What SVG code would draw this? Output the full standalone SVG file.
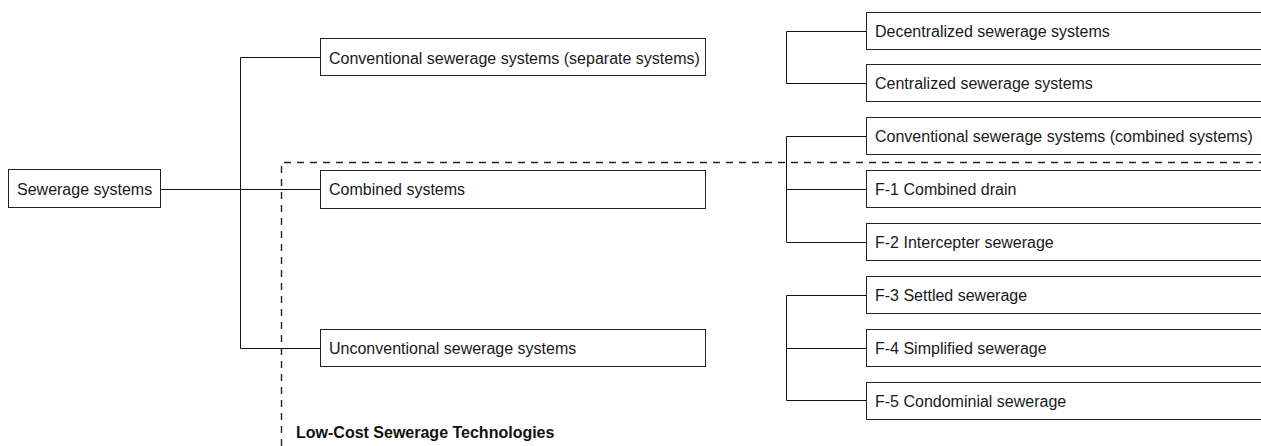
<svg xmlns="http://www.w3.org/2000/svg" width="1261" height="446" viewBox="0 0 1261 446">
  <style>
    .box { fill: #ffffff; stroke: #222222; stroke-width: 1; }
    .lbl { font-family: "Liberation Sans", Arial, sans-serif; font-size: 16px; fill: #1a1a1a; }
    .link { fill: none; stroke: #111111; stroke-width: 1; }
    .zone { fill: none; stroke: #222222; stroke-width: 1.4; stroke-dasharray: 7 6; }
    .zone-title { font-family: "Liberation Sans", Arial, sans-serif; font-size: 16px; font-weight: bold; fill: #111111; }
  </style>

  <!-- connectors -->
  <g id="connectors">
    <!-- root to second level -->
    <path class="link" d="M160.5 189.5 H320.5"/>
    <path class="link" d="M240.5 57.5 V348.5"/>
    <path class="link" d="M240.5 57.5 H320.5"/>
    <path class="link" d="M240.5 348.5 H320.5"/>
    <!-- separate systems bracket -->
    <path class="link" d="M786.5 31.5 V83.5 M786.5 31.5 H866.5 M786.5 83.5 H866.5"/>
    <!-- combined systems bracket -->
    <path class="link" d="M786.5 136.5 V242.5 M786.5 136.5 H866.5 M786.5 189.5 H866.5 M786.5 242.5 H866.5"/>
    <!-- unconventional bracket -->
    <path class="link" d="M786.5 295.5 V400.5 M786.5 295.5 H866.5 M786.5 348.5 H866.5 M786.5 400.5 H866.5"/>
  </g>

  <!-- low-cost technologies zone -->
  <g id="low-cost-zone">
    <path class="zone" d="M281.5 446 V162.5 H1261"/>
    <text class="zone-title" x="296" y="438">Low-Cost Sewerage Technologies</text>
  </g>

  <g id="sewerage-systems">
    <rect class="box" x="8.5" y="169.5" width="152" height="38"/>
    <text class="lbl" x="17" y="194.5">Sewerage systems</text>
  </g>

  <g id="conventional-separate">
    <rect class="box" x="320.5" y="38.5" width="385" height="37"/>
    <text class="lbl" x="329" y="63.5">Conventional sewerage systems (separate systems)</text>
  </g>

  <g id="combined-systems">
    <rect class="box" x="320.5" y="170.5" width="385" height="38"/>
    <text class="lbl" x="329" y="195">Combined systems</text>
  </g>

  <g id="unconventional">
    <rect class="box" x="320.5" y="329.5" width="385" height="37"/>
    <text class="lbl" x="329" y="354">Unconventional sewerage systems</text>
  </g>

  <g id="decentralized">
    <rect class="box" x="866.5" y="12.5" width="400" height="37"/>
    <text class="lbl" x="875" y="37">Decentralized sewerage systems</text>
  </g>

  <g id="centralized">
    <rect class="box" x="866.5" y="64.5" width="400" height="37"/>
    <text class="lbl" x="875" y="89">Centralized sewerage systems</text>
  </g>

  <g id="conventional-combined">
    <rect class="box" x="866.5" y="117.5" width="400" height="37"/>
    <text class="lbl" x="875" y="142">Conventional sewerage systems (combined systems)</text>
  </g>

  <g id="f1">
    <rect class="box" x="866.5" y="170.5" width="400" height="37"/>
    <text class="lbl" x="875" y="195">F-1 Combined drain</text>
  </g>

  <g id="f2">
    <rect class="box" x="866.5" y="223.5" width="400" height="37"/>
    <text class="lbl" x="875" y="248">F-2 Intercepter sewerage</text>
  </g>

  <g id="f3">
    <rect class="box" x="866.5" y="276.5" width="400" height="37"/>
    <text class="lbl" x="875" y="301">F-3 Settled sewerage</text>
  </g>

  <g id="f4">
    <rect class="box" x="866.5" y="329.5" width="400" height="37"/>
    <text class="lbl" x="875" y="354">F-4 Simplified sewerage</text>
  </g>

  <g id="f5">
    <rect class="box" x="866.5" y="382.5" width="400" height="37"/>
    <text class="lbl" x="875" y="407">F-5 Condominial sewerage</text>
  </g>
</svg>
